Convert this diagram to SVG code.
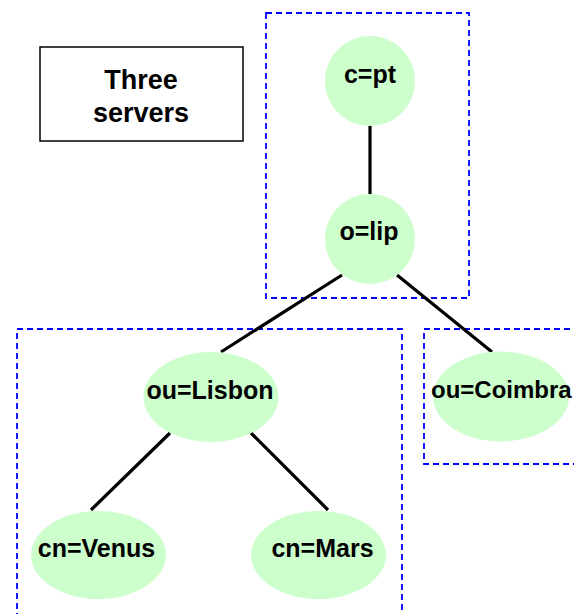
<svg xmlns="http://www.w3.org/2000/svg" width="574" height="614" viewBox="0 0 574 614">
<style>
.srv{fill:none;stroke:#0000ff;stroke-width:1.8;stroke-dasharray:6,4}
.nd{fill:#ccffcc;stroke:none}
.lb{font-family:"Liberation Sans",Arial,sans-serif;font-weight:bold;font-size:25px;fill:#000;text-anchor:middle}
.bt{font-family:"Liberation Sans",Arial,sans-serif;font-weight:bold;font-size:27px;fill:#000;text-anchor:middle}
.cn{stroke:#000;stroke-width:3.2;fill:none}
</style>
<rect width="574" height="614" fill="#fff"/>
<g id="servers">
<rect class="srv" x="266" y="13" width="203" height="285"/>
<rect class="srv" x="17" y="329" width="385" height="300"/>
<rect class="srv" x="424" y="329" width="170" height="135"/>
</g>
<g id="title">
<rect x="40" y="47" width="203" height="94" fill="#fff" stroke="#000" stroke-width="1.5"/>
<text class="bt" x="141" y="89">Three</text>
<text class="bt" x="141" y="122">servers</text>
</g>
<g id="connectors">
<line class="cn" x1="370" y1="126" x2="370" y2="194"/>
<line class="cn" x1="342" y1="275" x2="221" y2="352"/>
<line class="cn" x1="397" y1="275" x2="492" y2="352"/>
<line class="cn" x1="170" y1="433" x2="91" y2="510"/>
<line class="cn" x1="251" y1="433" x2="328" y2="510"/>
</g>
<g id="n-cpt">
<circle class="nd" cx="370" cy="81" r="45"/>
<text class="lb" x="370" y="83">c=pt</text>
</g>
<g id="n-olip">
<circle class="nd" cx="370" cy="239" r="45"/>
<text class="lb" x="369" y="240">o=lip</text>
</g>
<g id="n-lisbon">
<ellipse class="nd" cx="211" cy="397" rx="67.5" ry="45"/>
<text class="lb" x="210" y="399">ou=Lisbon</text>
</g>
<g id="n-coimbra">
<ellipse class="nd" cx="501" cy="396.5" rx="68" ry="45"/>
<text class="lb" x="431" y="398" style="text-anchor:start;font-size:24px">ou=Coimbra</text>
</g>
<g id="n-venus">
<ellipse class="nd" cx="98.5" cy="555" rx="67.5" ry="44"/>
<text class="lb" x="96.5" y="557">cn=Venus</text>
</g>
<g id="n-mars">
<ellipse class="nd" cx="318.5" cy="555" rx="67.5" ry="44"/>
<text class="lb" x="322.5" y="557">cn=Mars</text>
</g>
</svg>
